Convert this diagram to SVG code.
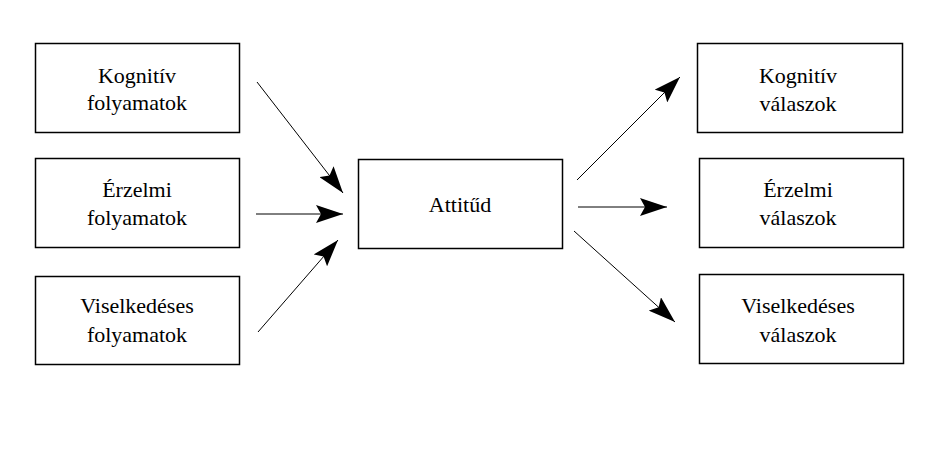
<svg xmlns="http://www.w3.org/2000/svg" width="931" height="454" viewBox="0 0 931 454">
<style>
rect{fill:#fff;stroke:#000;stroke-width:1.5}
.bg{stroke:none}
text{font-family:"Liberation Serif","Times New Roman",serif;font-size:22px;fill:#000;text-anchor:middle}
.c{stroke:#000;stroke-width:1;fill:none;marker-end:url(#ah)}
</style>
<defs>
<marker id="ah" viewBox="0 0 27 18" refX="27" refY="9" markerWidth="27" markerHeight="18" markerUnits="userSpaceOnUse" orient="auto">
<path d="M0,0 L27,9 L0,18 L5,9 Z" fill="#000"/>
</marker>
</defs>
<rect class="bg" x="0" y="0" width="931" height="454"/>
<g id="n1"><rect x="35.5" y="43.5" width="204" height="89"/><text x="137" y="83">Kognitív</text><text x="137" y="110">folyamatok</text></g>
<g id="n2"><rect x="35.5" y="158.5" width="204" height="89"/><text x="137" y="197">Érzelmi</text><text x="137" y="225">folyamatok</text></g>
<g id="n3"><rect x="35.5" y="276.5" width="204" height="88"/><text x="137" y="313">Viselkedéses</text><text x="137" y="342">folyamatok</text></g>
<g id="center"><rect x="358.5" y="159.5" width="204" height="89"/><text x="460" y="212">Attitűd</text></g>
<g id="r1"><rect x="697.5" y="43.5" width="205" height="89"/><text x="798" y="83">Kognitív</text><text x="798" y="111">válaszok</text></g>
<g id="r2"><rect x="699.5" y="158.5" width="204" height="89"/><text x="798" y="197">Érzelmi</text><text x="798" y="225">válaszok</text></g>
<g id="r3"><rect x="699.5" y="274.5" width="204" height="89"/><text x="798" y="313">Viselkedéses</text><text x="798" y="342">válaszok</text></g>
<g id="connectors">
<line class="c" x1="257" y1="82" x2="343" y2="193"/>
<line class="c" x1="256" y1="214" x2="343" y2="214"/>
<line class="c" x1="258" y1="332" x2="338" y2="240"/>
<line class="c" x1="577" y1="180" x2="680" y2="77"/>
<line class="c" x1="578" y1="207" x2="667" y2="207"/>
<line class="c" x1="574" y1="231" x2="675" y2="322"/>
</g>
</svg>
